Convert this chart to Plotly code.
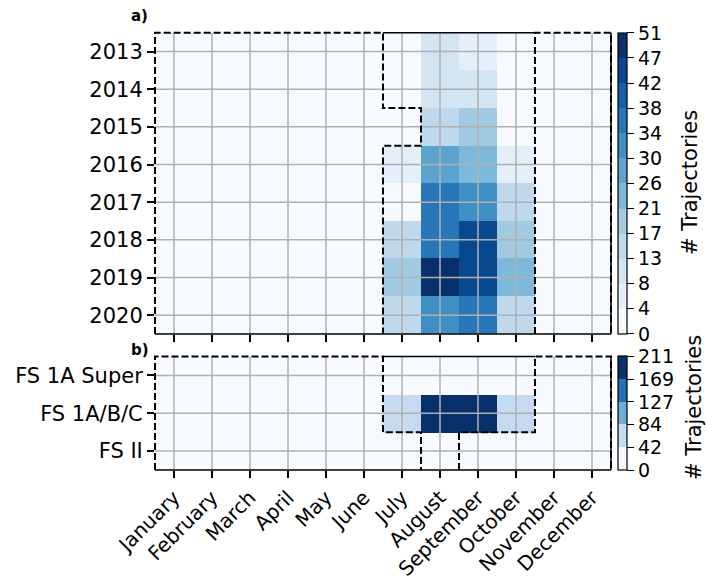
import numpy as np
import plotly.graph_objects as go

# ---- data -------------------------------------------------------------
months = ["January", "February", "March", "April", "May", "June",
          "July", "August", "September", "October", "November", "December"]
years = ["2013", "2014", "2015", "2016", "2017", "2018", "2019", "2020"]
classes = ["FS 1A Super", "FS 1A/B/C", "FS II"]

# trajectories per month, one list per year
t2013 = [0, 0, 0, 0, 0, 0, 0, 9, 5, 0, 0, 0]
t2014 = [0, 0, 0, 0, 0, 0, 0, 9, 9, 0, 0, 0]
t2015 = [0, 0, 0, 0, 0, 0, 0, 14, 18, 0, 0, 0]
t2016 = [0, 0, 0, 0, 0, 0, 5, 27, 22, 6, 0, 0]
t2017 = [0, 0, 0, 0, 0, 0, 0, 36, 31, 14, 0, 0]
t2018 = [0, 0, 0, 0, 0, 0, 15, 35, 43, 19, 0, 0]
t2019 = [0, 0, 0, 0, 0, 0, 19, 51, 44, 23, 0, 0]
t2020 = [0, 0, 0, 0, 0, 0, 14, 30, 35, 15, 0, 0]

# trajectories per month, one list per ice class
fs_1a_super = [0, 0, 0, 0, 0, 0, 0, 0, 0, 0, 0, 0]
fs_1abc = [0, 0, 0, 0, 0, 0, 53, 211, 207, 77, 0, 0]
fs_ii = [0, 0, 0, 0, 0, 0, 0, 0, 0, 0, 0, 0]

# colour-bar labels (bin edges rounded)
top_ticklabels = ["0", "4", "8", "13", "17", "21", "26", "30", "34", "38", "42", "47", "51"]
bot_ticklabels = ["0", "42", "84", "127", "169", "211"]
cbar_title = "# Trajectories"

# ---- styling ----------------------------------------------------------
FONT = "DejaVu Sans"
W, H = 707, 580
BLUES_12 = ["#f7fbff", "#e5eff9", "#d3e4f3", "#bfd8ec", "#a2cbe2", "#7eb8da",
            "#5ca4d0", "#3f8fc4", "#2777b8", "#1360a7", "#08488f", "#08306b"]
BLUES_5 = ["#f7fbff", "#c6dbef", "#6baed6", "#2171b5", "#08306b"]
GRID = "#b0b0b0"

# plot-area placement in pixels
PX_L, PX_R = 155, 611
TOP_T, TOP_B = 32.7, 334
BOT_T, BOT_B = 356.5, 470
CB_X = 618


def step_scale(colors):
    n = len(colors)
    scale = []
    for k, c in enumerate(colors):
        scale.append([k / n, c])
        scale.append([(k + 1) / n, c])
    return scale


def fx(px):
    return px / W


def fy(py):
    return 1 - py / H


top_z = [t2013, t2014, t2015, t2016, t2017, t2018, t2019, t2020]
bot_z = [fs_1a_super, fs_1abc, fs_ii]
top_max = max(max(r) for r in top_z)
bot_max = max(max(r) for r in bot_z)


def colorbar(y0, y1, zmax, labels):
    return dict(
        x=fx(CB_X), xanchor="left", xref="paper",
        y=(fy(y0) + fy(y1)) / 2, yanchor="middle", yref="paper",
        len=(y1 - y0) / H, lenmode="fraction",
        thickness=9, outlinewidth=1.2, outlinecolor="black",
        xpad=0, ypad=0,
        tickmode="array",
        tickvals=list(np.linspace(0, zmax, len(labels))),
        ticktext=labels,
        ticks="outside", ticklen=7, tickwidth=1.2, tickcolor="black",
        tickfont=dict(family=FONT, size=19, color="black"),
    )


fig = go.Figure()
fig.add_trace(go.Heatmap(
    z=top_z, x=months, y=years, xaxis="x", yaxis="y",
    colorscale=step_scale(BLUES_12), zmin=0, zmax=top_max,
    colorbar=colorbar(TOP_T, TOP_B, top_max, top_ticklabels),
    hoverinfo="skip",
))
fig.add_trace(go.Heatmap(
    z=bot_z, x=months, y=classes, xaxis="x2", yaxis="y2",
    colorscale=step_scale(BLUES_5), zmin=0, zmax=bot_max,
    colorbar=colorbar(BOT_T, BOT_B, bot_max, bot_ticklabels),
    hoverinfo="skip",
))

axis_common = dict(type="category", showgrid=False, zeroline=False, showline=False,
                   automargin=False,
                   ticks="outside", ticklen=7, tickwidth=1.5, tickcolor="black",
                   tickfont=dict(family=FONT, size=21, color="black"))
nm = len(months)

fig.update_layout(
    template="none",
    width=W, height=H, autosize=False,
    margin=dict(l=0, r=0, t=0, b=0, pad=0),
    paper_bgcolor="white", plot_bgcolor="white",
    font=dict(family=FONT, color="black"),
    showlegend=False,
    xaxis=dict(axis_common, domain=[fx(PX_L), fx(PX_R)], anchor="y",
               range=[-0.5, nm - 0.5], showticklabels=False),
    yaxis=dict(axis_common, domain=[fy(TOP_B), fy(TOP_T)], anchor="x",
               range=[len(years) - 0.5, -0.5]),
    xaxis2=dict(axis_common, domain=[fx(PX_L), fx(PX_R)], anchor="y2",
                range=[-0.5, nm - 0.5], tickangle=-45,
                tickfont=dict(family=FONT, size=20, color="black")),
    yaxis2=dict(axis_common, domain=[fy(BOT_B), fy(BOT_T)], anchor="x2",
                range=[len(classes) - 0.5, -0.5]),
)

shapes = []


def add_grid(xref, yref, nrows):
    for i in range(nm):
        shapes.append(dict(type="line", xref=xref, yref=yref, x0=i, x1=i,
                           y0=-0.5, y1=nrows - 0.5, layer="above",
                           line=dict(color=GRID, width=1.5)))
    for j in range(nrows):
        shapes.append(dict(type="line", xref=xref, yref=yref, x0=-0.5, x1=nm - 0.5,
                           y0=j, y1=j, layer="above",
                           line=dict(color=GRID, width=1.5)))


def dashed_outline(xref, yref, nrows, pts):
    # pts are cell-edge positions (column index, row index); drawn in domain units
    def dx(v):
        return (v + 0.5) / nm

    def dy(v):
        return 1 - (v + 0.5) / nrows
    path = "M " + " L ".join(f"{dx(a):.5f},{dy(b):.5f}" for a, b in pts)
    shapes.append(dict(type="path", path=path, xref=xref + " domain", yref=yref + " domain",
                       layer="above", fillcolor="rgba(0,0,0,0)",
                       line=dict(color="black", width=2, dash="7px,3px")))


def frame(xref, yref, nrows, top_from, top_to):
    dom = dict(xref=xref + " domain", yref=yref + " domain", layer="above",
               line=dict(color="black", width=1.5))
    shapes.append(dict(type="line", x0=0, x1=1, y0=0, y1=0, **dom))
    shapes.append(dict(type="line", x0=1, x1=1, y0=0, y1=1, **dom))
    shapes.append(dict(type="line", x0=(top_from + 0.5) / nm, x1=(top_to + 0.5) / nm,
                       y0=1, y1=1, **dom))


ny, nc = len(years), len(classes)

# panel a
add_grid("x", "y", ny)
dashed_outline("x", "y", ny, [(-0.5, 7.5), (-0.5, -0.5), (5.5, -0.5), (5.5, 1.5),
                              (6.5, 1.5), (6.5, 2.5), (5.5, 2.5), (5.5, 7.5)])
dashed_outline("x", "y", ny, [(9.5, 7.5), (9.5, -0.5), (11.5, -0.5), (11.5, 7.5)])
frame("x", "y", ny, 5.5, 9.5)

# panel b
add_grid("x2", "y2", nc)
dashed_outline("x2", "y2", nc, [(-0.5, 2.5), (-0.5, -0.5), (5.5, -0.5), (5.5, 1.5),
                                (6.5, 1.5), (6.5, 2.5)])
dashed_outline("x2", "y2", nc, [(7.5, 2.5), (7.5, 1.5), (9.5, 1.5), (9.5, -0.5),
                                (11.5, -0.5), (11.5, 2.5)])
frame("x2", "y2", nc, 5.5, 9.5)

fig.update_layout(shapes=shapes)

# panel letters
fig.add_annotation(text="<b>a)</b>", x=fx(139), y=fy(16), xref="paper", yref="paper",
                   xanchor="center", yanchor="middle",
                   showarrow=False, font=dict(family=FONT, size=15, color="black"))
fig.add_annotation(text="<b>b)</b>", x=fx(140), y=fy(350), xref="paper", yref="paper",
                   xanchor="center", yanchor="middle",
                   showarrow=False, font=dict(family=FONT, size=15, color="black"))

# colour-bar titles
title_font = dict(family=FONT, size=21, color="black")
fig.add_annotation(text=cbar_title, textangle=-90, x=fx(690), y=fy(183),
                   xref="paper", yref="paper", xanchor="center", yanchor="middle",
                   showarrow=False, font=title_font)
fig.add_annotation(text=cbar_title, textangle=-90, x=fx(694), y=fy(408),
                   xref="paper", yref="paper", xanchor="center", yanchor="middle",
                   showarrow=False, font=title_font)

fig.write_html("out.html", config={"displayModeBar": False})
